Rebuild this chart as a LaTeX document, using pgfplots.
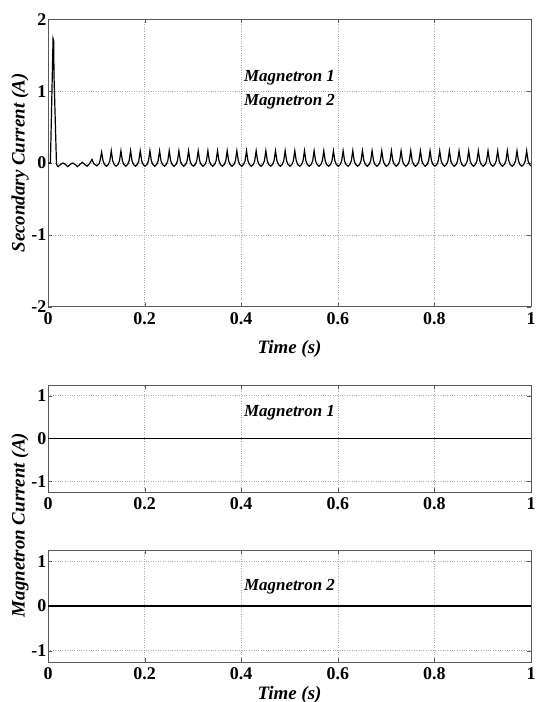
\documentclass[border=0pt]{standalone}
\usepackage{fontspec}
\setmainfont{Liberation Serif}
\usepackage{pgfplots}
\pgfplotsset{compat=1.18}

\pgfplotsset{
  mat/.style={
    scale only axis, width=483bp, anchor=south west,
    xmin=0, xmax=1, xtick={0,0.2,0.4,0.6,0.8,1},
    grid=major, grid style={dotted, gray!65, line width=0.6bp},
    axis line style={gray!70!black, line width=0.8bp},
    tick style={gray!70!black}, major tick length=4bp, tick align=inside,
    /pgf/number format/assume math mode=true,
    ticklabel style={font=\fontsize{18}{18}\selectfont\bfseries},
    yticklabel style={inner sep=1.5bp},
    xticklabel style={yshift=-2bp},
    label style={font=\fontsize{19}{19}\selectfont\bfseries\itshape},
  },
}
\tikzset{tag/.style={font=\fontsize{17}{17}\selectfont\bfseries\itshape}}

\begin{document}
\begin{tikzpicture}
\useasboundingbox (0bp,0bp) rectangle (536bp,702bp);

% secondary current
\begin{axis}[mat, at={(48bp,395.3bp)}, height=287.4bp,
  ymin=-2, ymax=2, ytick={-2,-1,0,1,2},
  xlabel={Time (s)}, xlabel style={at={(axis description cs:0.5,-0.147)}, anchor=center},
  ylabel={Secondary Current (A)}, ylabel style={at={(axis description cs:-0.058,0.5)}, anchor=center}]
\addplot[black, line width=1.2bp] coordinates {
(0,0)(0.005,0.0)(0.0105,1.73)(0.0117,1.70)(0.0125,1.2)(0.0175,0.0)(0.019,-0.04)(0.021,-0.05)
(0.026,-0.02)(0.031,0.0)(0.036,-0.02)(0.041,-0.05)(0.046,-0.02)(0.051,0.0)(0.056,-0.02)(0.061,-0.05)
(0.066,-0.02)(0.071,0.01)(0.076,-0.02)(0.081,-0.045)(0.086,-0.01)(0.091,0.05)(0.095,-0.01)(0.101,-0.04)
(0.106,-0.01)(0.108,0.04)
(0.111,0.15)(0.114,0.03)(0.117,-0.02)(0.121,-0.045)(0.125,-0.02)(0.128,0.03)
(0.131,0.17)(0.134,0.03)(0.137,-0.02)(0.141,-0.045)(0.145,-0.02)(0.148,0.03)
(0.151,0.17)(0.154,0.03)(0.157,-0.02)(0.161,-0.045)(0.165,-0.02)(0.168,0.03)
(0.171,0.17)(0.174,0.03)(0.177,-0.02)(0.181,-0.045)(0.185,-0.02)(0.188,0.03)
(0.191,0.17)(0.194,0.03)(0.197,-0.02)(0.201,-0.045)(0.205,-0.02)(0.208,0.03)
(0.211,0.17)(0.214,0.03)(0.217,-0.02)(0.221,-0.045)(0.225,-0.02)(0.228,0.03)
(0.231,0.17)(0.234,0.03)(0.237,-0.02)(0.241,-0.045)(0.245,-0.02)(0.248,0.03)
(0.251,0.17)(0.254,0.03)(0.257,-0.02)(0.261,-0.045)(0.265,-0.02)(0.268,0.03)
(0.271,0.17)(0.274,0.03)(0.277,-0.02)(0.281,-0.045)(0.285,-0.02)(0.288,0.03)
(0.291,0.17)(0.294,0.03)(0.297,-0.02)(0.301,-0.045)(0.305,-0.02)(0.308,0.03)
(0.311,0.17)(0.314,0.03)(0.317,-0.02)(0.321,-0.045)(0.325,-0.02)(0.328,0.03)
(0.331,0.17)(0.334,0.03)(0.337,-0.02)(0.341,-0.045)(0.345,-0.02)(0.348,0.03)
(0.351,0.17)(0.354,0.03)(0.357,-0.02)(0.361,-0.045)(0.365,-0.02)(0.368,0.03)
(0.371,0.17)(0.374,0.03)(0.377,-0.02)(0.381,-0.045)(0.385,-0.02)(0.388,0.03)
(0.391,0.17)(0.394,0.03)(0.397,-0.02)(0.401,-0.045)(0.405,-0.02)(0.408,0.03)
(0.411,0.17)(0.414,0.03)(0.417,-0.02)(0.421,-0.045)(0.425,-0.02)(0.428,0.03)
(0.431,0.17)(0.434,0.03)(0.437,-0.02)(0.441,-0.045)(0.445,-0.02)(0.448,0.03)
(0.451,0.17)(0.454,0.03)(0.457,-0.02)(0.461,-0.045)(0.465,-0.02)(0.468,0.03)
(0.471,0.17)(0.474,0.03)(0.477,-0.02)(0.481,-0.045)(0.485,-0.02)(0.488,0.03)
(0.491,0.17)(0.494,0.03)(0.497,-0.02)(0.501,-0.045)(0.505,-0.02)(0.508,0.03)
(0.511,0.17)(0.514,0.03)(0.517,-0.02)(0.521,-0.045)(0.525,-0.02)(0.528,0.03)
(0.531,0.17)(0.534,0.03)(0.537,-0.02)(0.541,-0.045)(0.545,-0.02)(0.548,0.03)
(0.551,0.17)(0.554,0.03)(0.557,-0.02)(0.561,-0.045)(0.565,-0.02)(0.568,0.03)
(0.571,0.17)(0.574,0.03)(0.577,-0.02)(0.581,-0.045)(0.585,-0.02)(0.588,0.03)
(0.591,0.17)(0.594,0.03)(0.597,-0.02)(0.601,-0.045)(0.605,-0.02)(0.608,0.03)
(0.611,0.17)(0.614,0.03)(0.617,-0.02)(0.621,-0.045)(0.625,-0.02)(0.628,0.03)
(0.631,0.17)(0.634,0.03)(0.637,-0.02)(0.641,-0.045)(0.645,-0.02)(0.648,0.03)
(0.651,0.17)(0.654,0.03)(0.657,-0.02)(0.661,-0.045)(0.665,-0.02)(0.668,0.03)
(0.671,0.17)(0.674,0.03)(0.677,-0.02)(0.681,-0.045)(0.685,-0.02)(0.688,0.03)
(0.691,0.17)(0.694,0.03)(0.697,-0.02)(0.701,-0.045)(0.705,-0.02)(0.708,0.03)
(0.711,0.17)(0.714,0.03)(0.717,-0.02)(0.721,-0.045)(0.725,-0.02)(0.728,0.03)
(0.731,0.17)(0.734,0.03)(0.737,-0.02)(0.741,-0.045)(0.745,-0.02)(0.748,0.03)
(0.751,0.17)(0.754,0.03)(0.757,-0.02)(0.761,-0.045)(0.765,-0.02)(0.768,0.03)
(0.771,0.17)(0.774,0.03)(0.777,-0.02)(0.781,-0.045)(0.785,-0.02)(0.788,0.03)
(0.791,0.17)(0.794,0.03)(0.797,-0.02)(0.801,-0.045)(0.805,-0.02)(0.808,0.03)
(0.811,0.17)(0.814,0.03)(0.817,-0.02)(0.821,-0.045)(0.825,-0.02)(0.828,0.03)
(0.831,0.17)(0.834,0.03)(0.837,-0.02)(0.841,-0.045)(0.845,-0.02)(0.848,0.03)
(0.851,0.17)(0.854,0.03)(0.857,-0.02)(0.861,-0.045)(0.865,-0.02)(0.868,0.03)
(0.871,0.17)(0.874,0.03)(0.877,-0.02)(0.881,-0.045)(0.885,-0.02)(0.888,0.03)
(0.891,0.17)(0.894,0.03)(0.897,-0.02)(0.901,-0.045)(0.905,-0.02)(0.908,0.03)
(0.911,0.17)(0.914,0.03)(0.917,-0.02)(0.921,-0.045)(0.925,-0.02)(0.928,0.03)
(0.931,0.17)(0.934,0.03)(0.937,-0.02)(0.941,-0.045)(0.945,-0.02)(0.948,0.03)
(0.951,0.17)(0.954,0.03)(0.957,-0.02)(0.961,-0.045)(0.965,-0.02)(0.968,0.03)
(0.971,0.17)(0.974,0.03)(0.977,-0.02)(0.981,-0.045)(0.985,-0.02)(0.988,0.03)
(0.991,0.17)(0.994,0.03)(0.997,-0.02)(1.0,-0.04)
};
\node[tag] at (axis cs:0.5,1.18) {Magnetron 1};
\node[tag] at (axis cs:0.5,0.85) {Magnetron 2};
\end{axis}

% magnetron 1
\begin{axis}[mat, at={(48bp,210bp)}, height=107bp,
  ymin=-1.25, ymax=1.25, ytick={-1,0,1}]
\addplot[black, line width=1.2bp] coordinates {(0,0)(1,0)};
\node[tag] at (axis cs:0.5,0.6) {Magnetron 1};
\end{axis}

% magnetron 2
\begin{axis}[mat, at={(48bp,40bp)}, height=112bp,
  ymin=-1.25, ymax=1.25, ytick={-1,0,1},
  xlabel={Time (s)}, xlabel style={at={(axis description cs:0.5,-0.29)}, anchor=center}]
\addplot[black, line width=1.2bp] coordinates {(0,0)(1,0)};
\node[tag] at (axis cs:0.5,0.42) {Magnetron 2};
\end{axis}

\node[rotate=90, font=\fontsize{19}{19}\selectfont\bfseries\itshape] at (20bp,177bp) {Magnetron Current (A)};
\end{tikzpicture}
\end{document}
